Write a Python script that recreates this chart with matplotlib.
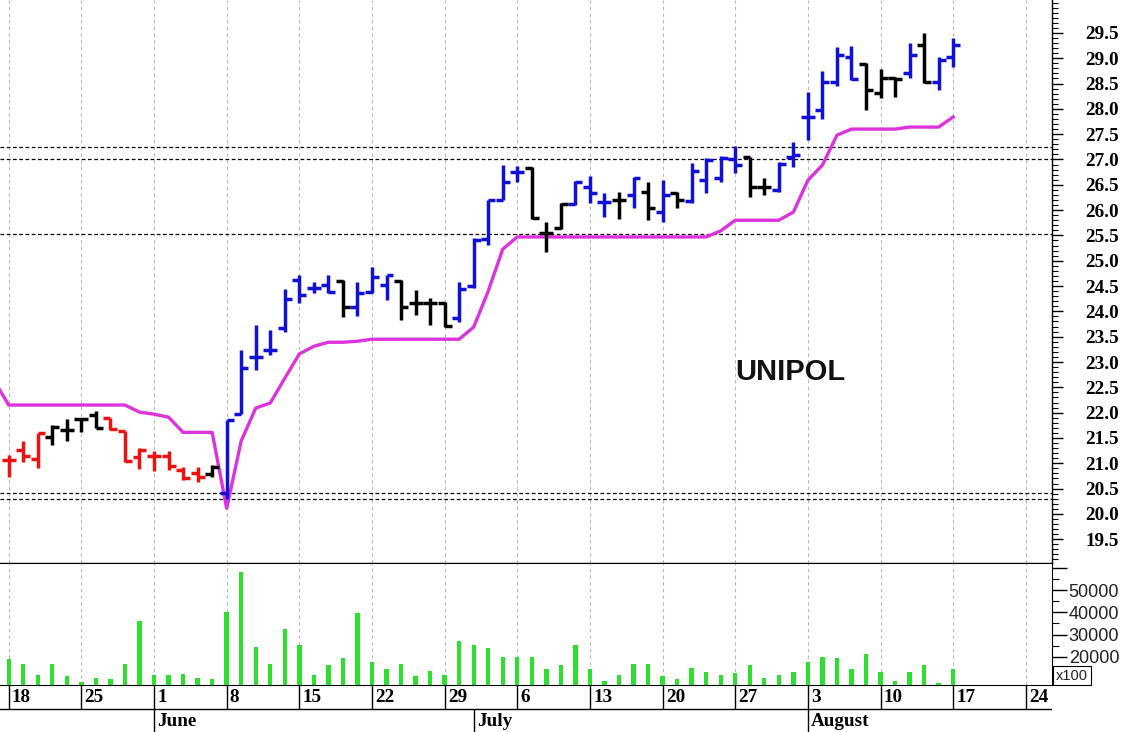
import matplotlib
matplotlib.use("Agg")
import matplotlib.pyplot as plt
import numpy as np
import pandas as pd

# ---------------- data ----------------
dates = pd.bdate_range("2020-05-18", "2020-08-28")   # weekday calendar (data up to Aug 17)
n_bars = 66

opens = [21.06, 21.26, 21.08, 21.52, 21.65, 21.88, 21.95, 21.89, 21.63, 21.12,
         21.14, 21.14, 20.86, 20.80, 20.78, 20.42, 21.97, 23.10, 23.24, 23.67,
         24.62, 24.46, 24.52, 24.60, 24.08, 24.38, 24.52, 24.60, 24.16, 24.16,
         24.16, 23.87, 24.50, 25.43, 26.20, 26.75, 26.83, 25.55, 25.65, 26.12,
         26.46, 26.16, 26.20, 26.30, 26.36, 25.96, 26.34, 26.18, 26.60, 26.63,
         27.00, 27.05, 26.46, 26.40, 27.05, 27.84, 27.98, 28.53, 29.03, 28.89,
         28.31, 28.61, 28.71, 29.26, 28.53, 29.03]
highs = [21.16, 21.44, 21.60, 21.75, 21.87, 21.90, 22.03, 21.89, 21.63, 21.30,
         21.24, 21.24, 20.92, 20.92, 20.96, 21.85, 23.23, 23.73, 23.63, 24.44,
         24.72, 24.58, 24.72, 24.62, 24.58, 24.88, 24.72, 24.62, 24.42, 24.26,
         24.18, 24.58, 25.45, 26.20, 26.89, 26.87, 26.85, 25.76, 26.14, 26.58,
         26.67, 26.34, 26.36, 26.65, 26.56, 26.60, 26.36, 26.93, 27.03, 27.07,
         27.27, 27.05, 26.63, 26.95, 27.35, 28.33, 28.75, 29.22, 29.24, 28.91,
         28.79, 28.63, 29.30, 29.50, 29.03, 29.40]
lows = [20.73, 21.02, 20.90, 21.36, 21.44, 21.61, 21.69, 21.65, 21.02, 20.88,
        20.84, 20.86, 20.67, 20.63, 20.73, 20.30, 21.97, 22.84, 23.14, 23.59,
        24.16, 24.36, 24.36, 23.89, 23.91, 24.36, 24.22, 23.83, 23.93, 23.73,
        23.69, 23.79, 24.46, 25.31, 26.20, 26.56, 25.82, 25.17, 25.63, 26.10,
        26.14, 25.86, 25.82, 26.04, 25.80, 25.76, 26.04, 26.14, 26.34, 26.56,
        26.73, 26.26, 26.30, 26.36, 26.85, 27.39, 27.80, 28.45, 28.57, 27.98,
        28.22, 28.24, 28.61, 28.51, 28.37, 28.83]
closes = [21.06, 21.14, 21.60, 21.71, 21.65, 21.88, 21.69, 21.67, 21.04, 21.26,
          21.14, 20.94, 20.71, 20.73, 20.92, 21.85, 22.88, 23.10, 23.24, 24.24,
          24.32, 24.46, 24.38, 24.08, 24.36, 24.68, 24.72, 24.08, 24.16, 24.16,
          23.71, 24.45, 25.41, 26.20, 26.56, 26.75, 25.84, 25.55, 26.12, 26.56,
          26.34, 26.16, 26.20, 26.63, 26.04, 26.30, 26.20, 26.77, 26.99, 27.03,
          26.89, 26.46, 26.46, 26.91, 27.09, 27.84, 28.53, 29.07, 28.59, 28.37,
          28.61, 28.59, 29.07, 28.53, 28.97, 29.26]
# trend state per bar: R = bearish, K = neutral, B = bullish
trend = "RRRKKKKRRRRRRRKBBBBBBBBKBBBKKKKBBBBBKKKBBBKBKBKBBBBKKBBBBBBKKKBKBB"

# trailing stop line (first value belongs to the day before the first bar)
stop = [22.63,
        22.15, 22.15, 22.15, 22.15, 22.15, 22.15, 22.15, 22.15, 22.15, 22.01,
        21.97, 21.91, 21.61, 21.61, 21.61, 20.11, 21.44, 22.09, 22.19, 22.68,
        23.16, 23.31, 23.39, 23.39, 23.41, 23.45, 23.45, 23.45, 23.45, 23.45,
        23.45, 23.45, 23.69, 24.40, 25.23, 25.47, 25.47, 25.47, 25.47, 25.47,
        25.47, 25.47, 25.47, 25.47, 25.47, 25.47, 25.47, 25.47, 25.47, 25.59,
        25.80, 25.80, 25.80, 25.80, 25.96, 26.59, 26.89, 27.48, 27.60, 27.60,
        27.60, 27.60, 27.64, 27.64, 27.64, 27.84]

volume = [19100, 17000, 11800, 17000, 11300, 8650, 10600, 10100, 17000, 36300,
          11800, 11800, 12500, 10600, 10100, 40000, 58000, 24600, 17000, 32500,
          25200, 11800, 16300, 19700, 39600, 17600, 14500, 17000, 11300, 13700,
          11800, 27300, 25200, 24000, 20100, 20100, 20100, 14500, 16300, 25200,
          14500, 9400, 11800, 17000, 17000, 11300, 10100, 15100, 13100, 11900,
          12700, 16300, 10600, 11800, 13100, 17900, 20100, 19500, 14500, 21300,
          13100, 9400, 13100, 16300, 8200, 14500]

levels = [27.25, 27.00, 25.52, 20.42, 20.30]
title = "UNIPOL"
month_names = {6: "June", 7: "July", 8: "August"}

# ---------------- figure ----------------
W, H = 1123, 732
fig = plt.figure(figsize=(W / 100, H / 100), dpi=100)
fig.patch.set_facecolor("white")

axr = 1052 / W
ax_p = fig.add_axes([0, 1 - 563 / H, axr, 563 / H])
ax_v = fig.add_axes([0, 1 - 685 / H, axr, 122 / H])
ax_d = fig.add_axes([0, 0, axr, 47 / H])

idx = np.arange(n_bars)
xlim = (-0.6, 71.8)
for ax in (ax_p, ax_v, ax_d):
    ax.set_xlim(*xlim)

mondays = [i for i, d in enumerate(dates) if d.weekday() == 0]
month_starts = [i for i in range(1, len(dates)) if dates[i].month != dates[i - 1].month]

serif_bold = dict(family="Liberation Serif", weight="bold", size=13.8)

# ---- price panel ----
ax_p.set_ylim(19.03, 30.15)
ax_p.vlines(mondays, 19.03, 30.15, colors="#b8b8b8", linewidth=0.8,
            linestyles=(0, (3, 3)), zorder=1)
for lv in levels:
    ax_p.axhline(lv, color="black", linewidth=0.9, linestyle=(0, (3, 2)), zorder=2)

cmap = {"R": "#ee1111", "K": "#000000", "B": "#1010d8"}
cols = [cmap[t] for t in trend]
lw_bar = 2.5
lc1 = ax_p.vlines(idx, lows, highs, colors=cols, linewidth=lw_bar, zorder=4)
lc2 = ax_p.hlines(opens, idx - 0.48, idx, colors=cols, linewidth=lw_bar, zorder=4)
lc3 = ax_p.hlines(closes, idx, idx + 0.48, colors=cols, linewidth=lw_bar, zorder=4)
for lc in (lc1, lc2, lc3):
    lc.set_capstyle("butt")

ax_p.plot(np.arange(-1, n_bars), stop, color="#dd33dd", linewidth=2.4, zorder=3,
          solid_joinstyle="round")

ax_p.text(790 / 1052, (563 - 372) / 563, title, transform=ax_p.transAxes,
          ha="center", va="center", fontsize=21, fontweight="bold",
          family="Liberation Sans", color="#111111")

ax_p.yaxis.tick_right()
ax_p.set_yticks(np.arange(19.5, 29.51, 0.5))
ax_p.set_yticks(np.arange(19.1, 30.15, 0.1), minor=True)
ax_p.set_yticklabels([f"{v:.1f}" for v in np.arange(19.5, 29.51, 0.5)])
for lab in ax_p.get_yticklabels():
    lab.set_fontfamily("Liberation Serif")
    lab.set_fontweight("bold")
    lab.set_fontsize(13.8)
ax_p.tick_params(axis="y", which="major", direction="out", length=8, width=1, pad=16)
ax_p.tick_params(axis="y", which="minor", direction="out", length=4.3, width=0.8)
ax_p.tick_params(axis="x", which="both", bottom=False, labelbottom=False)
for s in ("left", "top"):
    ax_p.spines[s].set_visible(False)
ax_p.spines["right"].set_linewidth(1)
ax_p.spines["bottom"].set_linewidth(1)

# ---- volume panel ----
vlo, vhi = 7440, 62100
ax_v.set_ylim(vlo, vhi)
ax_v.vlines(mondays, vlo, vhi, colors="#b8b8b8", linewidth=0.8,
            linestyles=(0, (3, 3)), zorder=1)
ax_v.bar(idx, volume, width=0.3, color="#2ee02e", zorder=3)
ax_v.yaxis.tick_right()
ax_v.set_yticks([20000, 30000, 40000, 50000, 60000])
ax_v.set_yticklabels(["20000", "30000", "40000", "50000", ""])
ax_v.set_yticks(np.arange(15000, 62000, 10000), minor=True)
for lab in ax_v.get_yticklabels():
    lab.set_fontfamily("Liberation Sans")
    lab.set_fontsize(13)
    lab.set_color("#222222")
ax_v.tick_params(axis="y", which="major", direction="out", length=11, width=1, pad=1)
ax_v.tick_params(axis="y", which="minor", direction="out", length=5, width=0.8)
ax_v.tick_params(axis="x", which="both", bottom=False, labelbottom=False)
ax_v.spines["left"].set_visible(False)
ax_v.text(1.004, 0.02, "x100", transform=ax_v.transAxes, ha="left", va="bottom",
          fontsize=10.5, family="Liberation Sans", color="#222222",
          bbox=dict(boxstyle="square,pad=0.2", fc="white", ec="black", lw=0.8),
          clip_on=False)

# ---- date rows ----
ax_d.set_ylim(0, 47)
ax_d.axis("off")
ax_d.axhline(23, color="black", linewidth=1)
ax_d.vlines(mondays, 23, 47, colors="black", linewidth=1)
ax_d.vlines(month_starts, 0, 23, colors="black", linewidth=1)
for i in mondays:
    ax_d.text(i + 0.22, 35, str(dates[i].day), ha="left", va="center", **serif_bold)
for i in month_starts:
    ax_d.text(i + 0.22, 10.5, month_names[dates[i].month], ha="left", va="center",
              **serif_bold)

fig.savefig("out.png", dpi=100, facecolor="white")
